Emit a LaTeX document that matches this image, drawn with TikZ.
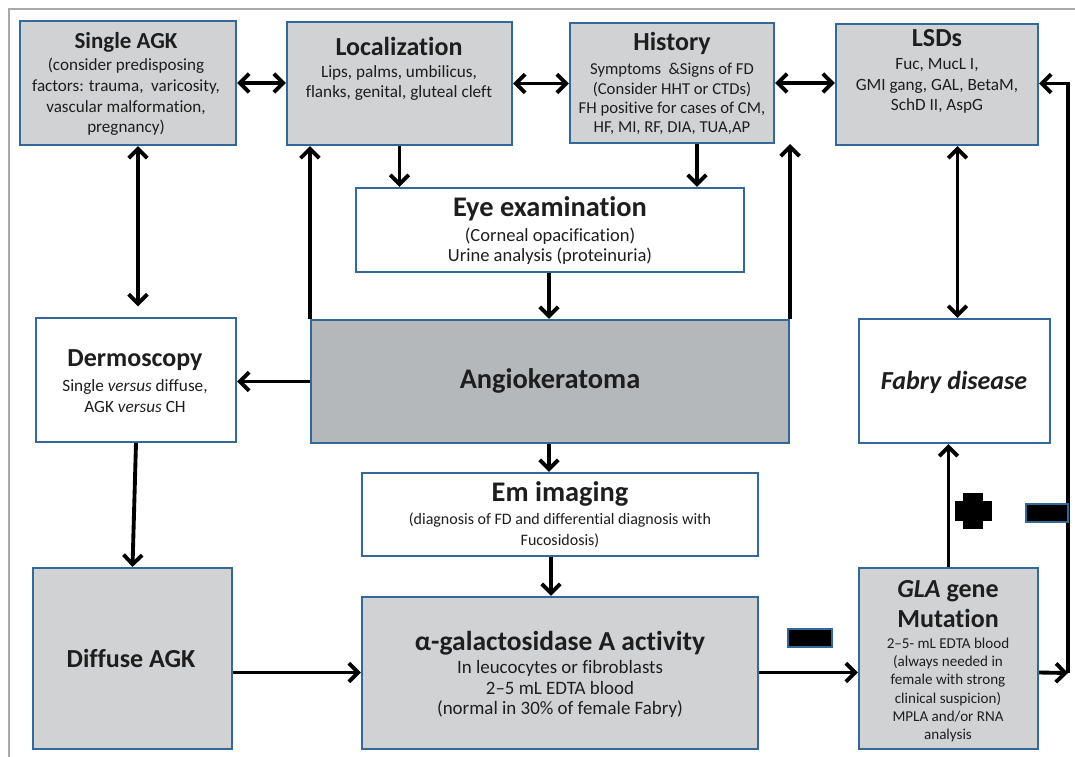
\documentclass[tikz,border=0pt]{standalone}
\usepackage{fontspec}
\setmainfont{Carlito}[Ligatures=NoCommon]
\usetikzlibrary{arrows.meta,fit,calc}
\definecolor{bblue}{HTML}{32689A}
\definecolor{lgray}{HTML}{D0D2D3}
\definecolor{dgray}{HTML}{B5B8BA}
\definecolor{framec}{HTML}{A9A9A9}
\definecolor{txt}{HTML}{1E1E1E}
\begin{document}
\begin{tikzpicture}[x=0.75pt,y=-0.75pt,
 box/.style={draw=bblue,line width=1.6pt,inner sep=0pt},
 gbox/.style={box,fill=lgray},
 wbox/.style={box,fill=white},
 dbox/.style={box,fill=dgray},
 ttl/.style={text=txt,font=\bfseries\fontsize{19.5}{22}\selectfont,inner sep=0pt},
 bttl/.style={text=txt,font=\bfseries\fontsize{21.3}{24}\selectfont,inner sep=0pt},
 bdy/.style={text=txt,font=\fontsize{12.9}{15.3}\selectfont,align=center,inner sep=0pt},
 arr/.style={line width=2.9pt,-{Straight Barb[length=7pt,width=14pt]}},
 darr/.style={line width=2.9pt,{Straight Barb[length=7pt,width=14pt]}-{Straight Barb[length=7pt,width=14pt]}},
 sign/.style={fill=black,draw=bblue,line width=1.6pt,inner sep=0pt}
]
\useasboundingbox (0,0) rectangle (1075,757);
\draw[framec,line width=1.5pt] (9,757) -- (9,9) -- (1075,9);

% boxes
\node[gbox,fit={(20,21) (236,145)}] (sagk) {};
\node[gbox,fit={(287,22) (512,145)}] (loc) {};
\node[gbox,fit={(570,23) (774,143)}] (hist) {};
\node[gbox,fit={(836,24) (1038,145)}] (lsd) {};
\node[wbox,fit={(356,188) (744,272)}] (eye) {};
\node[wbox,fit={(36,318) (236,442)}] (derm) {};
\node[dbox,fit={(311,320) (789,443)}] (ang) {};
\node[wbox,fit={(362,473) (758,556)}] (em) {};
\node[gbox,fit={(33,568) (232,749)}] (diff) {};
\node[gbox,fit={(362,597) (758,749)}] (agal) {};
\node[wbox,fit={(859,319) (1050,443)}] (fab) {};
\node[gbox,fit={(859,568) (1038,749)}] (gla) {};

% texts
\node[ttl,font=\bfseries\fontsize{17.2}{20}\selectfont] (t1) at (126,42) {Single AGK};
\node[bdy,font=\fontsize{12.8}{15.5}\selectfont] (b1) at (126,97) {(consider predisposing\\factors: trauma,\ \ varicosity,\\vascular malformation,\\pregnancy)};
\node[ttl] (t2) at (399,46) {Localization};
\node[bdy] (b2) at (399,83) {Lips, palms, umbilicus,\\flanks, genital, gluteal cleft};
\node[ttl] (t3) at (672,43) {History};
\node[bdy,font=\fontsize{12.5}{14.5}\selectfont] (b3) at (672,99) {Symptoms\ \ \&Signs of FD\\(Consider HHT or CTDs)\\FH positive for cases of CM,\\HF, MI, RF, DIA, TUA,AP};
\node[ttl] (t4) at (937,38) {LSDs};
\node[bdy] (b4) at (937,86) {Fuc, MucL I,\\GMI gang, GAL, BetaM,\\SchD II, AspG};
\node[bttl] (t5) at (550,209) {Eye examination};
\node[bdy,font=\fontsize{13.9}{15}\selectfont] (b5) at (550,246) {(Corneal opacification)\\Urine analysis (proteinuria)};
\node[ttl] (t6) at (135,360) {Dermoscopy};
\node[bdy] (b6) at (135,396) {Single \textit{versus} diffuse,\\AGK \textit{versus} CH};
\node[bttl] (t7) at (550,381) {Angiokeratoma};
\node[bttl] (t8) at (560,494) {Em imaging};
\node[bdy,font=\fontsize{12}{15.7}\selectfont] (b8) at (560,530) {(diagnosis of FD and differential diagnosis with\\Fucosidosis)};
\node[ttl,font=\bfseries\itshape\fontsize{19.5}{22}\selectfont] (t9) at (954,382) {Fabry disease};
\node[ttl] (t10) at (131,658) {Diffuse AGK};
\node[ttl,font=\bfseries\fontsize{20.6}{24}\selectfont] (t11) at (560,643) {α-galactosidase A activity};
\node[bdy,font=\fontsize{14.2}{15.7}\selectfont] (b11) at (560,689) {In leucocytes or fibroblasts\\2–5 mL EDTA blood\\(normal in 30\% of female Fabry)};
\node[ttl,align=center,font=\bfseries\fontsize{19.5}{23}\selectfont] (t12) at (948,604) {\textit{GLA} gene\\Mutation};
\node[bdy,font=\fontsize{11.3}{13.7}\selectfont] (b12) at (948,690) {2–5- mL EDTA blood\\(always needed in\\female with strong\\clinical suspicion)\\MPLA and/or RNA\\analysis};

% connectors
\draw[darr] (sagk.east) -- (sagk.east -| loc.west);
\draw[darr] (loc.east) -- (loc.east -| hist.west);
\draw[darr] (hist.east) -- (hist.east -| lsd.west);
\draw[darr,shorten >=8] ($(sagk.south)+(10,0)$) coordinate (s1) -- (s1 |- derm.north);
\draw[arr] (ang.north west) -- (ang.north west |- loc.south);
\draw[arr] (ang.north east) -- (ang.north east |- hist.south);
\draw[arr] ($(loc.south)+(0,0)$) coordinate (l1) -- (l1 |- eye.north);
\draw[arr] ($(hist.south)+(25,0)$) coordinate (h1) -- (h1 |- eye.north);
\draw[arr] ($(eye.south)+(-1,0)$) coordinate (e1) -- (e1 |- ang.north);
\draw[arr] (ang.west) -- (ang.west -| derm.east);
\draw[arr] ($(ang.south)+(-1,0)$) coordinate (a1) -- (a1 |- em.north);
\draw[arr] ($(em.south)+(-9,0)$) coordinate (m0) -- (m0 |- agal.north);
\draw[arr] (derm.south) -- (diff.north);
\draw[arr] ($(diff.east)+(0,14)$) coordinate (d1) -- (d1 -| agal.west);
\draw[arr] (d1 -| agal.east) -- (d1 -| gla.west);
\draw[arr] (gla.north) -- (gla.north |- fab.south);
\draw[darr] ($(fab.north)+(3,0)$) coordinate (f1) -- (f1 |- lsd.south);
\coordinate (rr) at (1068,673);
\draw[arr] (d1 -| gla.east) -- (rr);
\draw[arr] (rr) |- ($(lsd.east)+(0,-1)$);

% signs
\node[sign,fit={(788,629) (832,647)}] (m1) {};
\node[sign,fit={(1026,504) (1068,522)}] (m2) {};
\fill[black] (963,493) rectangle (983,529);
\fill[black] (955,501) rectangle (992,521);
\end{tikzpicture}
\end{document}
